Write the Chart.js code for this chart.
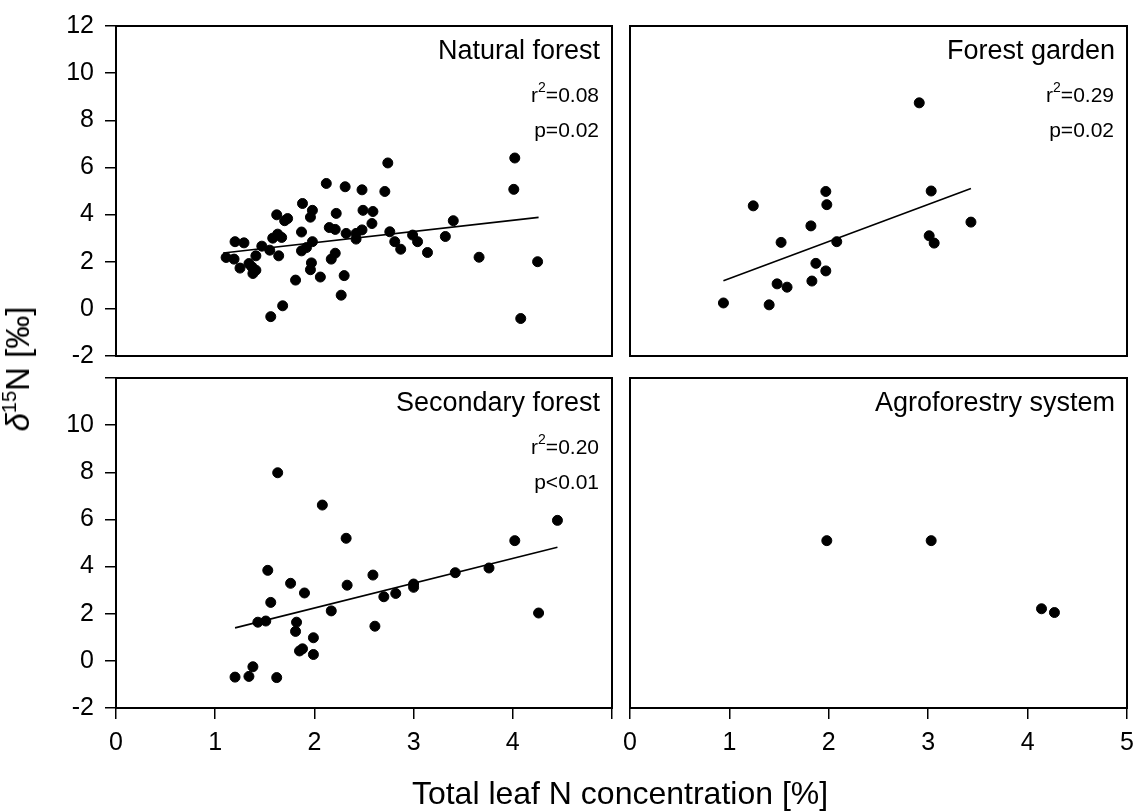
<!DOCTYPE html>
<html>
<head>
<meta charset="utf-8">
<script src="https://cdn.jsdelivr.net/npm/chart.js@4.4.1/dist/chart.umd.min.js"></script>
<style>
    body { margin: 0; background: #fff; }
    #wrap { position: relative; width: 1136px; height: 812px; overflow: hidden; font-family: "Liberation Sans", Arial, sans-serif; }
    canvas { position: absolute; }
    .xtitle { position: absolute; left: 0; width: 1240px; top: 775px; text-align: center; font-size: 32px; line-height: 36px; color: #000; }
    .ytitle { position: absolute; left: 18px; top: 369px; transform: translate(-50%, -50%) rotate(-90deg); white-space: nowrap; font-size: 33px; line-height: 36px; color: #000; }
    .ytitle sup { font-size: 20px; vertical-align: 13px; line-height: 0; }
</style>
</head>
<body>
<div id="wrap">
    <canvas id="tl" width="622" height="366" style="left:0;top:0"></canvas>
    <canvas id="tr" width="514" height="366" style="left:622px;top:0"></canvas>
    <canvas id="bl" width="622" height="446" style="left:0;top:366px"></canvas>
    <canvas id="br" width="514" height="446" style="left:622px;top:366px"></canvas>
    <div class="ytitle"><i>δ</i><sup>15</sup>N [‰]</div>
    <div class="xtitle">Total leaf N concentration [%]</div>
</div>
<script>
// Natural forest
const naturalX = [1.11, 1.19, 1.20, 1.29, 1.25, 1.34, 1.37, 1.41, 1.38, 1.41, 1.47, 1.55, 1.56, 1.58, 1.63, 1.67,
    1.64, 1.62, 1.70, 1.73, 1.68, 1.81, 1.87, 1.88, 1.98, 1.96, 1.98, 1.92, 1.87, 1.97, 1.96, 2.06,
    2.12, 2.15, 2.21, 2.22, 2.21, 2.17, 2.31, 2.32, 2.30, 2.27, 2.42, 2.48, 2.42, 2.48, 2.49, 2.59,
    2.58, 2.71, 2.74, 2.76, 2.81, 2.87, 2.99, 3.04, 3.14, 3.32, 3.40, 3.66, 4.01, 4.02, 4.08, 4.25];
const naturalY = [2.18, 2.11, 2.85, 2.80, 1.73, 1.92, 1.78, 1.64, 1.50, 2.25, 2.66, 2.49, -0.33, 3.00, 3.17, 3.03,
    2.25, 3.99, 3.74, 3.83, 0.13, 1.22, 3.26, 4.47, 4.18, 3.89, 2.85, 2.60, 2.46, 1.95, 1.66, 1.35,
    5.32, 3.45, 3.37, 4.05, 2.36, 2.11, 5.18, 3.20, 1.41, 0.58, 3.20, 3.35, 2.96, 5.05, 4.18, 4.13,
    3.62, 4.98, 6.19, 3.27, 2.85, 2.53, 3.13, 2.85, 2.39, 3.07, 3.74, 2.19, 5.07, 6.40, -0.41, 2.00];
const naturalFitX = [1.08, 4.26];
const naturalFitY = [2.37, 3.88];

// Forest garden
const gardenX = [0.94, 1.24, 1.40, 1.48, 1.58, 1.52, 1.82, 1.83, 1.87, 1.97, 1.97, 1.98, 2.08, 2.91, 3.01, 3.03, 3.06, 3.43];
const gardenY = [0.25, 4.37, 0.17, 1.06, 0.92, 2.82, 3.52, 1.18, 1.93, 1.61, 4.98, 4.42, 2.85, 8.74, 3.10, 5.00, 2.79, 3.68];
const gardenFitX = [0.94, 3.43];
const gardenFitY = [1.19, 5.11];

// Secondary forest
const secondaryX = [1.20, 1.34, 1.38, 1.62, 1.43, 1.51, 1.53, 1.56, 1.63, 1.76, 1.81, 1.82, 1.85, 1.88, 1.90, 1.99,
    1.99, 2.08, 2.17, 2.32, 2.33, 2.59, 2.61, 2.70, 2.82, 3.00, 3.00, 3.42, 3.76, 4.02, 4.26, 4.45];
const secondaryY = [-0.69, -0.66, -0.25, -0.71, 1.64, 1.69, 3.84, 2.48, 7.98, 3.29, 1.25, 1.64, 0.42, 0.51, 2.88, 0.98,
    0.27, 6.61, 2.12, 5.20, 3.21, 3.64, 1.47, 2.72, 2.86, 3.26, 3.12, 3.74, 3.94, 5.10, 2.03, 5.96];
const secondaryFitX = [1.20, 4.45];
const secondaryFitY = [1.40, 4.82];

// Agroforestry system
const agroX = [1.98, 3.03, 4.14, 4.27];
const agroY = [5.10, 5.10, 2.21, 2.05];

const yMin = -2, yMax = 12, yStep = 2;
const xMin = 0, xMax = 5, xStep = 1;

const FONT = '"Liberation Sans", Arial, sans-serif';

function pairs(xs, ys) {
    return xs.map((x, i) => ({ x: x, y: ys[i] }));
}

// box around each panel + labels in the top right corner
const panelPlugin = {
    id: 'panel',
    afterDraw(chart, args, opts) {
        const ctx = chart.ctx;
        const a = chart.chartArea;
        ctx.save();
        ctx.strokeStyle = '#000';
        ctx.lineWidth = 2;
        ctx.strokeRect(a.left, a.top, a.right - a.left, a.bottom - a.top);

        ctx.fillStyle = '#000';
        ctx.textBaseline = 'middle';
        ctx.textAlign = 'right';
        ctx.font = '27px ' + FONT;
        ctx.fillText(opts.title, a.right - 12, a.top + 26);

        if (opts.r2) {
            ctx.textAlign = 'left';
            const right = a.right - 13;
            // r² with superscript
            ctx.font = '21px ' + FONT;
            const rest = '=' + opts.r2;
            const wRest = ctx.measureText(rest).width;
            const wR = ctx.measureText('r').width;
            ctx.font = '14px ' + FONT;
            const wSup = ctx.measureText('2').width;
            let x = right - wRest - wSup - wR;
            const y = a.top + 70;
            ctx.font = '21px ' + FONT;
            ctx.fillText('r', x, y);
            ctx.font = '14px ' + FONT;
            ctx.fillText('2', x + wR, y - 8);
            ctx.font = '21px ' + FONT;
            ctx.fillText(rest, x + wR + wSup, y);

            ctx.textAlign = 'right';
            ctx.fillText(opts.p, right, a.top + 105);
        }
        ctx.restore();
    }
};

// keep tick labels from pushing the plot area in
function noOverflow(s) {
    s.paddingTop = 0;
    s.paddingBottom = 0;
    s.paddingLeft = 0;
    s.paddingRight = 0;
}

function makeChart(id, pts, fit, o) {
    const datasets = [{
        data: pts,
        backgroundColor: '#000',
        borderColor: '#000',
        pointRadius: 5,
        pointHoverRadius: 5,
        showLine: false
    }];
    if (fit) {
        datasets.push({
            data: fit,
            showLine: true,
            borderColor: '#000',
            borderWidth: 1.6,
            pointRadius: 0,
            fill: false
        });
    }
    const tickFont = { family: FONT, size: 25 };
    return new Chart(document.getElementById(id), {
        type: 'scatter',
        data: { datasets: datasets },
        plugins: [panelPlugin],
        options: {
            responsive: false,
            animation: false,
            layout: { padding: o.padding },
            plugins: {
                legend: { display: false },
                tooltip: { enabled: false },
                panel: { title: o.title, r2: o.r2, p: o.p }
            },
            scales: {
                x: {
                    type: 'linear',
                    min: xMin,
                    max: xMax,
                    display: o.showX,
                    border: { display: false },
                    grid: { drawOnChartArea: false, drawTicks: true, tickLength: 11, color: '#000', lineWidth: 1.5 },
                    ticks: {
                        stepSize: xStep,
                        color: '#000',
                        font: tickFont,
                        padding: 9,
                        maxRotation: 0,
                        callback: v => (o.hideX5 && v === xMax) ? '' : v
                    },
                    afterFit: s => {
                        noOverflow(s);
                        if (o.showX) s.height = 104;
                    }
                },
                y: {
                    type: 'linear',
                    min: yMin,
                    max: yMax,
                    display: o.showY,
                    border: { display: false },
                    grid: { drawOnChartArea: false, drawTicks: true, tickLength: 11, color: '#000', lineWidth: 1.5 },
                    ticks: {
                        stepSize: yStep,
                        color: '#000',
                        font: tickFont,
                        padding: 11,
                        callback: v => (o.hideY12 && v === yMax) ? '' : v
                    },
                    afterFit: s => {
                        noOverflow(s);
                        if (o.showY) s.width = 116;
                    }
                }
            }
        }
    });
}

document.addEventListener('DOMContentLoaded', function() {
    makeChart('tl', pairs(naturalX, naturalY), pairs(naturalFitX, naturalFitY), {
        title: 'Natural forest', r2: '0.08', p: 'p=0.02',
        padding: { top: 26, right: 10, bottom: 10, left: 0 },
        showX: false, showY: true
    });
    makeChart('tr', pairs(gardenX, gardenY), pairs(gardenFitX, gardenFitY), {
        title: 'Forest garden', r2: '0.29', p: 'p=0.02',
        padding: { top: 26, right: 9, bottom: 10, left: 8 },
        showX: false, showY: false
    });
    makeChart('bl', pairs(secondaryX, secondaryY), pairs(secondaryFitX, secondaryFitY), {
        title: 'Secondary forest', r2: '0.20', p: 'p<0.01',
        padding: { top: 12, right: 10, bottom: 0, left: 0 },
        showX: true, showY: true, hideX5: true, hideY12: true
    });
    makeChart('br', pairs(agroX, agroY), null, {
        title: 'Agroforestry system',
        padding: { top: 12, right: 9, bottom: 0, left: 8 },
        showX: true, showY: false
    });
});
</script>
</body>
</html>
